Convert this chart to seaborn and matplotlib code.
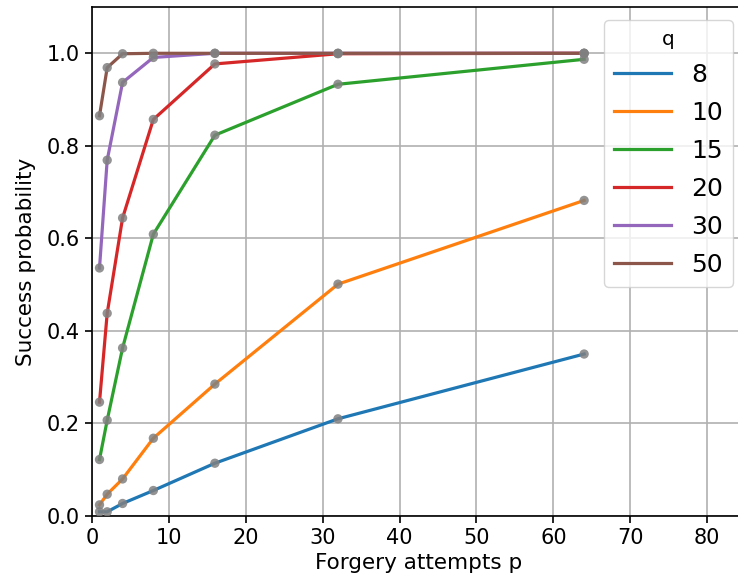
import numpy as np
import pandas as pd
import matplotlib
matplotlib.use("Agg")
import matplotlib.pyplot as plt
import seaborn as sns

# forgery attempts p and success probability per q
p_values = [1, 2, 4, 8, 16, 32, 64]
q_values = [8, 10, 15, 20, 30, 50]
prob_q8 = [0.009, 0.009, 0.027, 0.055, 0.114, 0.210, 0.350]
prob_q10 = [0.024, 0.047, 0.080, 0.168, 0.285, 0.501, 0.682]
prob_q15 = [0.122, 0.207, 0.363, 0.609, 0.823, 0.933, 0.987]
prob_q20 = [0.246, 0.438, 0.644, 0.857, 0.977, 0.999, 1.000]
prob_q30 = [0.536, 0.769, 0.937, 0.991, 1.000, 1.000, 1.000]
prob_q50 = [0.865, 0.969, 0.999, 1.000, 1.000, 1.000, 1.000]

probs = [prob_q8, prob_q10, prob_q15, prob_q20, prob_q30, prob_q50]
rows = []
for q, pr in zip(q_values, probs):
    for p, v in zip(p_values, pr):
        rows.append({'p': p, 'q': str(q), 'prob': v})
df = pd.DataFrame(rows)

plt.rcParams['font.family'] = ['DejaVu Sans']
fig = plt.figure(figsize=(7.38, 5.85), dpi=100)
# axes run slightly past the right edge of the image, as in the original
ax = fig.add_axes([0.1244, 0.118, 0.886, 0.870])

sns.lineplot(data=df, x='p', y='prob', hue='q', palette='tab10',
             linewidth=2.3, ax=ax, zorder=2)
sns.scatterplot(data=df, x='p', y='prob', color='grey', s=45, alpha=0.85,
                edgecolor='none', ax=ax, zorder=3, legend=False)

ax.set_xlim(0, 85)
ax.set_ylim(0, 1.1)
ax.set_xticks(np.arange(0, 81, 10))
ax.set_yticks(np.arange(0, 1.01, 0.2))
ax.grid(True, color='#b0b0b0', linewidth=1.2)
ax.set_axisbelow(True)
ax.tick_params(labelsize=15, length=5, width=1.2)
for s in ax.spines.values():
    s.set_linewidth(1.2)
ax.set_xlabel('Forgery attempts p', fontsize=15.5)
ax.set_ylabel('Success probability', fontsize=15.5, labelpad=8)

leg = ax.legend(title='q', loc='upper right', fontsize=18, title_fontsize=14.5,
                handlelength=2.3, labelspacing=0.56, framealpha=0.8,
                borderaxespad=0.5)
for line in leg.get_lines():
    line.set_linewidth(2.3)

fig.savefig('out.png', dpi=100)
